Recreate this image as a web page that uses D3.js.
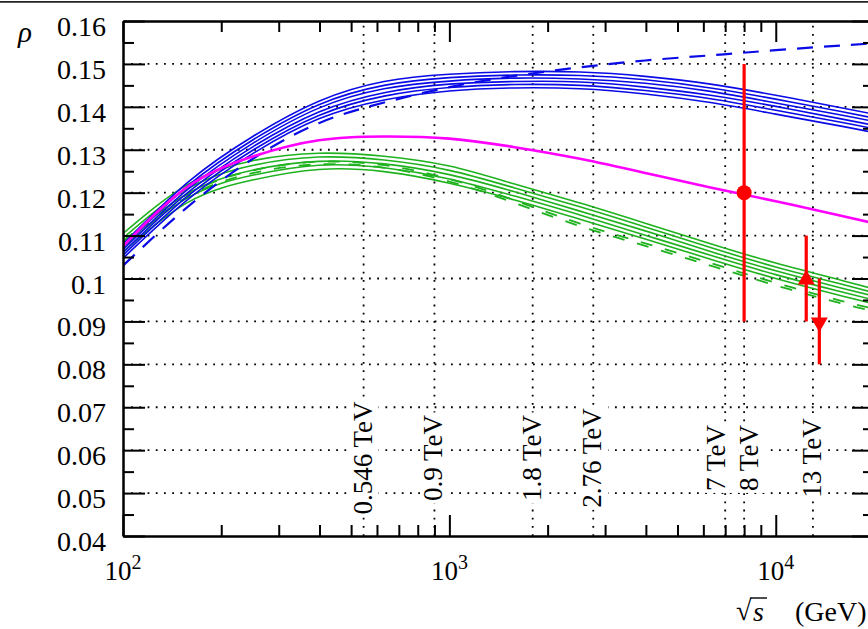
<!DOCTYPE html>
<html>
<head>
<meta charset="utf-8">
<script src="https://cdn.jsdelivr.net/npm/d3@7"></script>
<style>
  html, body { margin: 0; padding: 0; background: #fff; }
  svg { display: block; }
  text { font-family: "Liberation Serif", "Times New Roman", serif; fill: #000; }
</style>
</head>
<body>
<svg id="chart" width="868" height="629"></svg>
<script>
// sqrt(s) sampling points (GeV), evenly spaced in log10 from 2.0 to 4.3
const energyGeV = [100, 158.5, 251.2, 398.1, 631, 1000, 1585, 2512, 3981, 6310, 10000, 15849, 19953];

// blue family of model curves (solid)
const blue1 = [0.1080, 0.1225, 0.1332, 0.1413, 0.1459, 0.1476, 0.1482, 0.1481, 0.1471, 0.1453, 0.1427, 0.1398, 0.1383];
const blue2 = [0.1073, 0.1217, 0.1324, 0.1405, 0.1450, 0.1468, 0.1474, 0.1473, 0.1463, 0.1444, 0.1418, 0.1389, 0.1374];
const blue3 = [0.1067, 0.1209, 0.1316, 0.1397, 0.1442, 0.1460, 0.1467, 0.1465, 0.1455, 0.1436, 0.1409, 0.1381, 0.1366];
const blue4 = [0.1060, 0.1201, 0.1308, 0.1388, 0.1433, 0.1453, 0.1459, 0.1458, 0.1446, 0.1427, 0.1401, 0.1372, 0.1357];
const blue5 = [0.1054, 0.1193, 0.1300, 0.1380, 0.1425, 0.1445, 0.1452, 0.1450, 0.1438, 0.1419, 0.1392, 0.1364, 0.1349];
const blue6 = [0.1047, 0.1185, 0.1292, 0.1372, 0.1416, 0.1437, 0.1444, 0.1442, 0.1430, 0.1410, 0.1383, 0.1355, 0.1340];
// blue dashed curve
const blueDashed = [0.1030, 0.1168, 0.1280, 0.1362, 0.1410, 0.1446, 0.1472, 0.1492, 0.1508, 0.1520, 0.1532, 0.1543, 0.1548];

// green family of model curves (solid)
const green1 = [0.1105, 0.1220, 0.1275, 0.1292, 0.1285, 0.1262, 0.1220, 0.1176, 0.1129, 0.1081, 0.1036, 0.0996, 0.0976];
const green2 = [0.1094, 0.1210, 0.1264, 0.1283, 0.1276, 0.1252, 0.1211, 0.1167, 0.1120, 0.1072, 0.1027, 0.0987, 0.0967];
const green3 = [0.1084, 0.1199, 0.1253, 0.1273, 0.1267, 0.1242, 0.1202, 0.1157, 0.1111, 0.1063, 0.1018, 0.0978, 0.0959];
const green4 = [0.1073, 0.1189, 0.1241, 0.1264, 0.1258, 0.1232, 0.1192, 0.1148, 0.1101, 0.1054, 0.1009, 0.0969, 0.0950];
const green5 = [0.1062, 0.1178, 0.1230, 0.1254, 0.1249, 0.1222, 0.1183, 0.1138, 0.1092, 0.1045, 0.1000, 0.0960, 0.0941];
// green dashed pair
const greenDashedA = [0.1087, 0.1197, 0.1252, 0.1272, 0.1264, 0.1232, 0.1182, 0.1128, 0.1082, 0.1036, 0.0990, 0.0948, 0.0930];
const greenDashedB = [0.1081, 0.1191, 0.1246, 0.1266, 0.1258, 0.1226, 0.1176, 0.1122, 0.1076, 0.1030, 0.0984, 0.0942, 0.0924];

// magenta curve
const magenta = [0.1075, 0.1215, 0.1285, 0.1322, 0.1331, 0.1326, 0.1306, 0.1279, 0.1246, 0.1212, 0.1180, 0.1146, 0.1129];

// measurements
const ptEnergy = [8000, 12400, 13600];
const ptRho    = [0.120, 0.100, 0.090];
const ptLow    = [0.090, 0.090, 0.080];
const ptHigh   = [0.150, 0.110, 0.100];
const ptSymbol = ["circle", "up", "down"];

// collider energies marked with vertical lines
const markEnergy = [546, 900, 1800, 2760, 7000, 8000, 13000];
const markLabel  = ["0.546 TeV", "0.9 TeV", "1.8 TeV", "2.76 TeV", "7 TeV", "8 TeV", "13 TeV"];

// axis ticks
const yMajorTicks = [0.04, 0.05, 0.06, 0.07, 0.08, 0.09, 0.10, 0.11, 0.12, 0.13, 0.14, 0.15, 0.16];
const yTickLabels = ["0.04", "0.05", "0.06", "0.07", "0.08", "0.09", "0.1", "0.11", "0.12", "0.13", "0.14", "0.15", "0.16"];
const yGridTicks  = [0.05, 0.06, 0.07, 0.08, 0.09, 0.10, 0.11, 0.12, 0.13, 0.14, 0.15];
const yMinorTicks = [0.045, 0.055, 0.065, 0.075, 0.085, 0.095, 0.105, 0.115, 0.125, 0.135, 0.145, 0.155];
const xMajorTicks = [100, 1000, 10000];
const xTickExponents = ["2", "3", "4"];

// ---- layout ----
const W = 868, H = 629;
const plotL = 123, plotR = 874, plotT = 21, plotB = 536;
const svg = d3.select("#chart");

const x = d3.scaleLog().domain([100, 20000]).range([plotL, plotR]);
const y = d3.scaleLinear().domain([0.04, 0.16]).range([plotB, plotT]);

const xMinorTicks = [];
[100, 1000, 10000].forEach(d => { for (let k = 2; k <= 9; k++) if (k * d <= 20000) xMinorTicks.push(k * d); });

const BLUE = "#0a0ae6", GREEN = "#1fb21f", MAGENTA = "#ff00ff", RED = "#ff0000";

// frame line across the top of the figure
svg.append("line").attr("x1", 0).attr("x2", W).attr("y1", 1.8).attr("y2", 1.8)
  .attr("stroke", "#222").attr("stroke-width", 1.8);

svg.append("defs").append("clipPath").attr("id", "plotClip")
  .append("rect").attr("x", plotL).attr("y", plotT).attr("width", plotR - plotL).attr("height", plotB - plotT);

// dotted grid
const grid = svg.append("g").attr("stroke", "#000").attr("stroke-width", 1.8).attr("stroke-dasharray", "1.8,6.4");
grid.selectAll("line.h").data(yGridTicks).join("line").attr("class", "h")
  .attr("x1", plotL).attr("x2", plotR).attr("y1", d => y(d)).attr("y2", d => y(d));
grid.selectAll("line.v").data(markEnergy).join("line").attr("class", "v")
  .attr("x1", d => x(d)).attr("x2", d => x(d)).attr("y1", plotB).attr("y2", plotT);

// energy labels on white backing
const labelNudge = { "7 TeV": -8, "8 TeV": 6 };
const labels = svg.append("g");
markEnergy.forEach((e, i) => {
  const cx = x(e) - 1 + (labelNudge[markLabel[i]] || 0);
  const g = labels.append("g").attr("transform", `translate(${cx},458) rotate(-90)`);
  const t = g.append("text").attr("x", 0).attr("y", 9).attr("text-anchor", "middle")
    .style("font-size", "27px").text(markLabel[i]);
  const bb = t.node().getBBox();
  g.insert("rect", "text").attr("x", bb.x - 2).attr("y", bb.y + 4)
    .attr("width", bb.width + 4).attr("height", bb.height - 3).attr("fill", "#fff");
});

// curves
const line = d3.line().x(d => x(d[0])).y(d => y(d[1])).curve(d3.curveNatural);
const pts = arr => energyGeV.map((e, i) => [e, arr[i]]);
const curves = svg.append("g").attr("clip-path", "url(#plotClip)").attr("fill", "none");

[green1, green2, green3, green4, green5].forEach(s =>
  curves.append("path").attr("d", line(pts(s))).attr("stroke", GREEN).attr("stroke-width", 1.6));
[greenDashedA, greenDashedB].forEach((s, i) =>
  curves.append("path").attr("d", line(pts(s))).attr("stroke", GREEN).attr("stroke-width", 1.8)
    .attr("stroke-dasharray", "12,13").attr("stroke-dashoffset", i * 4));
[blue1, blue2, blue3, blue4, blue5, blue6].forEach(s =>
  curves.append("path").attr("d", line(pts(s))).attr("stroke", BLUE).attr("stroke-width", 1.6));
curves.append("path").attr("d", line(pts(blueDashed))).attr("stroke", BLUE).attr("stroke-width", 2.2)
  .attr("stroke-dasharray", "16,11");
curves.append("path").attr("d", line(pts(magenta))).attr("stroke", MAGENTA).attr("stroke-width", 2.6);

// measurements with error bars
const meas = svg.append("g");
ptEnergy.forEach((e, i) => {
  const px = x(e), py = y(ptRho[i]);
  meas.append("line").attr("x1", px).attr("x2", px).attr("y1", y(ptLow[i])).attr("y2", y(ptHigh[i]))
    .attr("stroke", RED).attr("stroke-width", 3.2);
  if (ptSymbol[i] === "circle") {
    meas.append("circle").attr("cx", px).attr("cy", py).attr("r", 7.5).attr("fill", RED);
  } else {
    const sym = d3.symbol().type(d3.symbolTriangle).size(125);
    meas.append("path").attr("d", sym())
      .attr("transform", `translate(${px},${py + 1}) rotate(${ptSymbol[i] === "up" ? 0 : 180})`)
      .attr("fill", RED);
  }
});

// axes: ticks on all four sides, pointing inward
const axisStyle = g => { g.selectAll("text").remove(); g.select(".domain").attr("stroke-width", 2); g.selectAll(".tick line").attr("stroke-width", 2); };
svg.append("g").attr("transform", `translate(${plotL},0)`)
  .call(d3.axisLeft(y).tickValues(yMajorTicks).tickSize(-22).tickSizeOuter(0)).call(axisStyle);
svg.append("g").attr("transform", `translate(${plotL},0)`)
  .call(d3.axisLeft(y).tickValues(yMinorTicks).tickSize(-11).tickSizeOuter(0)).call(axisStyle);
svg.append("g").attr("transform", `translate(${plotR},0)`)
  .call(d3.axisRight(y).tickValues(yMajorTicks).tickSize(-22).tickSizeOuter(0)).call(axisStyle);
svg.append("g").attr("transform", `translate(${plotR},0)`)
  .call(d3.axisRight(y).tickValues(yMinorTicks).tickSize(-11).tickSizeOuter(0)).call(axisStyle);
svg.append("g").attr("transform", `translate(0,${plotB})`)
  .call(d3.axisBottom(x).tickValues(xMajorTicks).tickSize(-21).tickSizeOuter(0)).call(axisStyle);
svg.append("g").attr("transform", `translate(0,${plotB})`)
  .call(d3.axisBottom(x).tickValues(xMinorTicks).tickSize(-11).tickSizeOuter(0)).call(axisStyle);
svg.append("g").attr("transform", `translate(0,${plotT})`)
  .call(d3.axisTop(x).tickValues(xMajorTicks).tickSize(-21).tickSizeOuter(0)).call(axisStyle);
svg.append("g").attr("transform", `translate(0,${plotT})`)
  .call(d3.axisTop(x).tickValues(xMinorTicks).tickSize(-11).tickSizeOuter(0)).call(axisStyle);

// tick labels
svg.append("g").selectAll("text").data(yMajorTicks).join("text")
  .attr("x", 106).attr("y", d => y(d) + 15).attr("text-anchor", "end")
  .style("font-size", "28px").text((d, i) => yTickLabels[i]);
const xl = svg.append("g").selectAll("text").data(xMajorTicks).join("text")
  .attr("x", d => x(d)).attr("y", 580).attr("text-anchor", "middle").style("font-size", "27px");
xl.text("10");
xl.append("tspan").attr("dy", -11).style("font-size", "20px").text((d, i) => xTickExponents[i]);

// axis titles
svg.append("text").attr("x", 18).attr("y", 42).style("font-size", "29px").style("font-style", "italic").text("ρ");
svg.append("text").attr("x", 736).attr("y", 620).style("font-size", "28px").text("√");
svg.append("text").attr("x", 753).attr("y", 621).style("font-size", "28px").style("font-style", "italic").text("s");
svg.append("line").attr("x1", 750).attr("x2", 767).attr("y1", 598).attr("y2", 598)
  .attr("stroke", "#000").attr("stroke-width", 1.4);
svg.append("text").attr("x", 795).attr("y", 621).style("font-size", "28px").text("(GeV)");
</script>
</body>
</html>
